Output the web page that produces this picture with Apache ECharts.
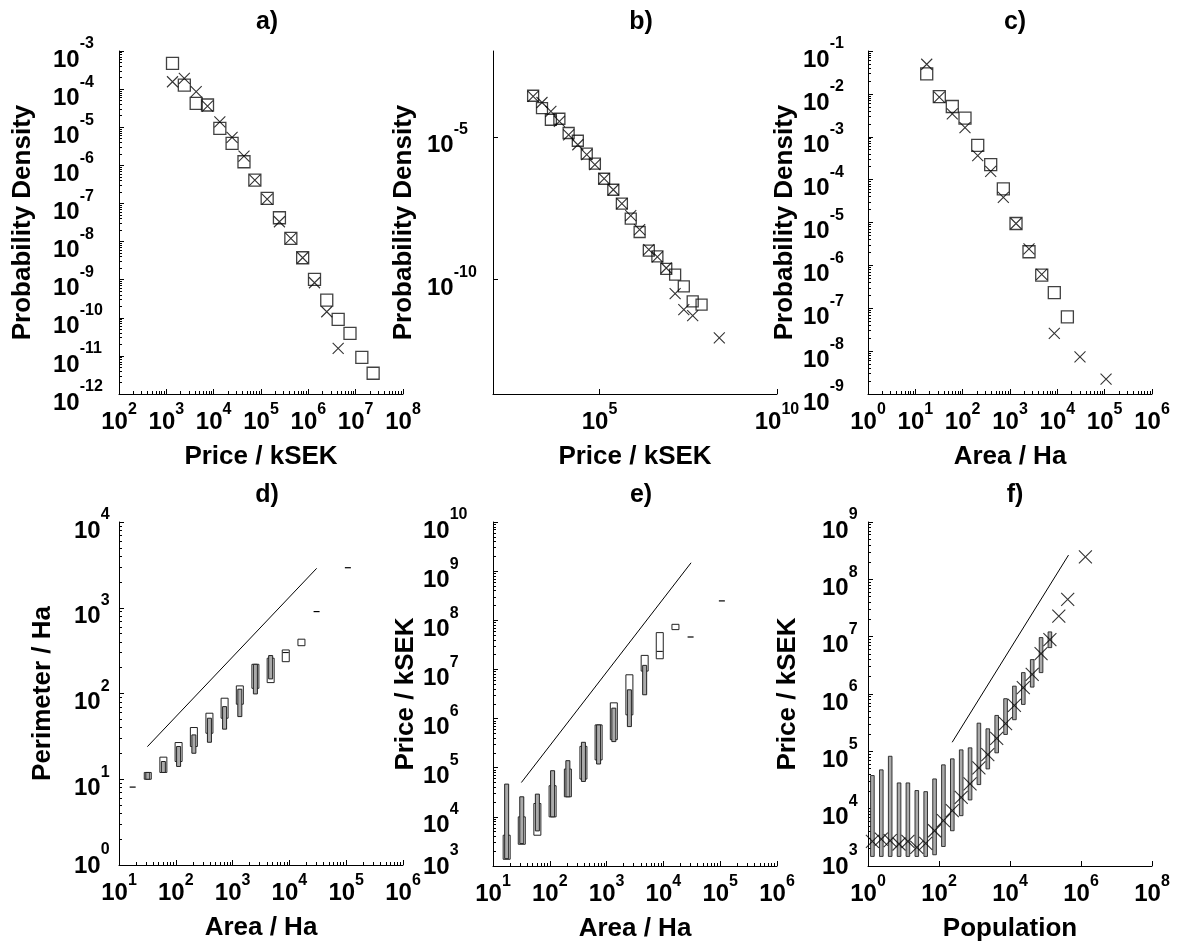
<!DOCTYPE html>
<html><head><meta charset="utf-8">
<script src="https://cdn.jsdelivr.net/npm/echarts@6/dist/echarts.min.js"></script>
<style>html,body{margin:0;padding:0;background:#fff}#c{width:1182px;height:947px}</style>
</head><body><div id="c"></div>
<script>
// ---------------- DATA ----------------
// a) price probability density (squares / crosses)
const aSqPrice = [1350, 2400, 4270, 7410, 13500, 24500, 43700, 74100, 135000, 245000, 427000, 759000, 1350000, 2450000, 4270000, 7590000, 13500000, 23400000];
const aSqDens  = [4.75e-4, 1.28e-4, 4.24e-5, 3.83e-5, 9.35e-6, 3.78e-6, 1.24e-6, 4.11e-7, 1.36e-7, 4.21e-8, 1.21e-8, 3.76e-9, 1.02e-9, 2.92e-10, 9.1e-11, 3.9e-11, 9.1e-12, 3.5e-12];
const aXPrice  = [1350, 2400, 4270, 7410, 13500, 24500, 43700, 74100, 135000, 245000, 427000, 759000, 1350000, 2450000, 4270000];
const aXDens   = [1.56e-4, 1.92e-4, 8.55e-5, 3.6e-5, 1.39e-5, 5.43e-6, 1.75e-6, 4.11e-7, 1.30e-7, 3.31e-8, 1.21e-8, 3.76e-9, 8.3e-10, 1.44e-10, 1.57e-11];
// b) price probability density, second binning
const bSqPrice = [1350, 2400, 4270, 7410, 13500, 24500, 43700, 74100, 135000, 245000, 427000, 759000, 1350000, 2450000, 4270000, 7590000, 13500000, 23700000, 42200000, 75000000];
const bSqDens  = [2.72e-4, 1.01e-4, 3.93e-5, 4.26e-5, 1.35e-5, 7.25e-6, 2.55e-6, 1.14e-6, 3.40e-7, 1.40e-7, 4.54e-8, 1.36e-8, 4.66e-9, 1.03e-9, 6.53e-10, 2.37e-10, 1.50e-10, 5.83e-11, 1.74e-11, 1.34e-11];
const bXPrice  = [1350, 2400, 4270, 7410, 13500, 24500, 43700, 74100, 135000, 245000, 427000, 759000, 1350000, 2450000, 4270000, 7590000, 13500000, 23700000, 42200000, 237000000];
const bXDens   = [2.57e-4, 1.58e-4, 7.67e-5, 3.43e-5, 1.17e-5, 5.25e-6, 2.35e-6, 1.05e-6, 3.40e-7, 1.40e-7, 4.54e-8, 1.73e-8, 5.60e-9, 1.12e-9, 6.22e-10, 2.56e-10, 3.24e-11, 8.93e-12, 5.51e-12, 9.16e-13];
// c) area probability density
const cSqArea = [17.4, 32.1, 60.4, 112, 208, 391, 723, 1340, 2520, 4680, 8630, 16300];
const cSqDens = [2.92e-2, 8.65e-3, 5.07e-3, 2.72e-3, 6.28e-4, 2.23e-4, 6.08e-5, 9.48e-6, 2.08e-6, 5.95e-7, 2.32e-7, 6.28e-8];
const cXArea  = [17.4, 32.1, 60.4, 112, 208, 391, 723, 1340, 2520, 4680, 8630, 30100, 107000];
const cXDens  = [4.91e-2, 8.37e-3, 3.43e-3, 1.64e-3, 3.61e-4, 1.56e-4, 3.87e-5, 9.48e-6, 2.44e-6, 6.18e-7, 2.58e-8, 7.36e-9, 2.23e-9];
// d) perimeter vs area (wide box / narrow box ranges)
const dArea       = [17.4, 32.1, 60.4, 112, 208, 391, 723, 1340, 2520, 4680, 8630, 16300, 30100, 107000];
const dWideLow    = [8.1, 10.0, 12.0, 16.1, 24.1, 34.4, 51.5, 75.0, 115, 134, 235, 361, 902, 2930];
const dWideHigh   = [8.1, 12.0, 18.1, 26.8, 40.1, 58.9, 88.1, 122.7, 219, 258, 322, 430, 902, 2930];
const dNarrowLow  = [null, 10.0, 12.0, 14.1, 20.1, 27.0, 38.4, 53.8, 98.9, 148, 300, null, null, null];
const dNarrowHigh = [null, 12.0, 16.1, 24.1, 32.9, 51.5, 70.3, 112.2, 219, 277, 300, null, null, null];
const dLineX = [31.6, 30200];
const dLineY = [24.0, 2880];
// e) price vs area
const eArea       = [17.4, 32.1, 60.4, 112, 208, 391, 723, 1340, 2520, 4680, 8630, 16300, 30100, 107000];
const eWideLow    = [1370, 2770, 4230, 10000, 25600, 58800, 144000, 372000, 1190000, 9250000, 16500000, 64600000, 45700000, 248000000];
const eWideHigh   = [4230, 10000, 18700, 43000, 94000, 272000, 743000, 2090000, 7780000, 19300000, 56100000, 82800000, 45700000, 248000000];
const eNarrowLow  = [1410, 2860, 5180, 10000, 25600, 52600, 119000, 340000, 687000, 3050000, 23300000, null, null, null];
const eNarrowHigh = [46400, 25600, 29000, 86900, 139000, 329000, 743000, 1630000, 3850000, 12100000, 23300000, null, null, null];
const eLineX = [31.6, 30700];
const eLineY = [50000, 1.48e9];
// f) price vs population
const fPop    = [1.33, 2.37, 4.22, 7.5, 13.3, 23.7, 42.2, 75, 133, 237, 422, 750, 1330, 2370, 4220, 7500, 13300, 23700, 42200, 75000, 133000, 237000, 422000, 1330000];
const fPrice  = [2680, 2950, 2760, 2420, 2680, 2110, 2480, 4120, 6170, 9220, 15800, 27000, 51400, 87900, 169000, 303000, 632000, 1290000, 2200000, 5070000, 8890000, 22800000, 44600000, 247000000];
const fBarPop  = [1.33, 2.37, 4.22, 7.5, 13.3, 23.7, 42.2, 75, 133, 237, 422, 750, 1330, 2370, 4220, 7500, 13300, 23700, 42200, 75000, 133000];
const fBarLow  = [1470, 1470, 1470, 1470, 1470, 1470, 1470, 1570, 2190, 4120, 7550, 14200, 26300, 49400, 94200, 197000, 356000, 658000, 1320000, 2360000, 6440000];
const fBarHigh = [37800, 47500, 82000, 28100, 28100, 20700, 19800, 33000, 58100, 73900, 106000, 115000, 310000, 247000, 423000, 828000, 1370000, 2360000, 3980000, 9640000, 12100000];
const fLineX = [235, 445000];
const fLineY = [144000, 2.65e8];

// tick values
const aXTicks = [1e2, 1e3, 1e4, 1e5, 1e6, 1e7, 1e8];
const aYTicks = [1e-12, 1e-11, 1e-10, 1e-9, 1e-8, 1e-7, 1e-6, 1e-5, 1e-4, 1e-3];
const bXTicks = [1e5, 1e10];
const bYTicks = [1e-10, 1e-5];
const cXTicks = [1, 10, 1e2, 1e3, 1e4, 1e5, 1e6];
const cYTicks = [1e-9, 1e-8, 1e-7, 1e-6, 1e-5, 1e-4, 1e-3, 1e-2, 1e-1];
const dXTicks = [10, 1e2, 1e3, 1e4, 1e5, 1e6];
const dYTicks = [1, 10, 1e2, 1e3, 1e4];
const eXTicks = [10, 1e2, 1e3, 1e4, 1e5, 1e6];
const eYTicks = [1e3, 1e4, 1e5, 1e6, 1e7, 1e8, 1e9, 1e10];
const fXTicks = [1, 1e2, 1e4, 1e6, 1e8];
const fYTicks = [1e3, 1e4, 1e5, 1e6, 1e7, 1e8, 1e9];

const panelTitles = ['a)', 'b)', 'c)', 'd)', 'e)', 'f)'];
const xNames = ['Price / kSEK', 'Price / kSEK', 'Area / Ha', 'Area / Ha', 'Area / Ha', 'Population'];
const yNames = ['Probability Density', 'Probability Density', 'Probability Density', 'Perimeter / Ha', 'Price / kSEK', 'Price / kSEK'];

// ---------------- LAYOUT / STYLE ----------------
const F = "'Liberation Sans', Arial, Helvetica, sans-serif";
const grids = [
  {left:119, top:51, width:284, height:343},
  {left:493, top:51, width:284, height:343},
  {left:868, top:51, width:284, height:343},
  {left:119, top:522, width:284, height:343},
  {left:493, top:522, width:284, height:344},
  {left:868, top:522, width:284, height:344}
];
function richFor(lh){
  return {
    b:{fontSize:24, fontWeight:'bold', fontFamily:F, color:'#000', lineHeight:lh, verticalAlign:'bottom'},
    s:{fontSize:16, fontWeight:'bold', fontFamily:F, color:'#000', lineHeight:lh, verticalAlign:'top'},
    g:{fontSize:4, lineHeight:16, color:'rgba(0,0,0,0)'}
  };
}
const RICH_X = richFor(32);
const RICH_Y = richFor(36);
function sup(v){ const e = Math.round(Math.log10(v)); return '{b|10}{s|' + e + '}'; }
// bottom-row panels: lowest y label sits a little higher (clear of the x labels)
function supLift(minV){
  return function(v){ const t = sup(v); return Math.abs(Math.log10(v) - Math.log10(minV)) < 1e-6 ? t + '\n{g| }' : t; };
}
function minorVals(min, max){
  const out = [];
  for (let e = Math.floor(Math.log10(min)); e < Math.ceil(Math.log10(max)); e++){
    for (let k = 2; k <= 9; k++){ const v = k * Math.pow(10, e); if (v > min && v < max) out.push(v); }
  }
  return out;
}
const nameStyle = {fontSize:26, fontWeight:'bold', fontFamily:F, color:'#000'};
function axes(dim, gi, min, max, ticks, labels, minorOn, name, nameGap, margin, lift){
  const pos = dim === 'x' ? 'bottom' : 'left';
  const main = {
    type:'log', logBase:10, gridIndex:gi, min:min, max:max, position:pos,
    axisLine:{show:true, onZero:false, lineStyle:{color:'#000', width:1}},
    axisTick:{show:true, inside:true, length:5, customValues:ticks, lineStyle:{color:'#000', width:1}},
    minorTick:{show:false}, splitLine:{show:false},
    axisLabel: dim === 'y'
      ? {show:true, customValues:labels, formatter: lift ? supLift(min) : sup, rich:RICH_Y, margin:margin, align:'left', padding:[6,0,0,0]}
      : {show:true, customValues:labels, formatter:sup, rich:RICH_X, margin:margin, align:'center'},
    name:name, nameLocation:'middle', nameGap:nameGap, nameTextStyle:nameStyle
  };
  const minor = {
    type:'log', logBase:10, gridIndex:gi, min:min, max:max, position:pos,
    axisLine:{show:false},
    axisTick:{show:minorOn, inside:true, length:3, customValues:minorOn ? minorVals(min, max) : [1e300], lineStyle:{color:'#000', width:1}},
    minorTick:{show:false}, splitLine:{show:false}, axisLabel:{show:false}
  };
  return [main, minor];
}
const xAxis = [].concat(
  axes('x', 0, 1e2, 1e8, aXTicks, aXTicks, true, xNames[0], 50, 8),
  axes('x', 1, 1e2, 1e10, bXTicks, bXTicks, false, xNames[1], 50, 8),
  axes('x', 2, 1, 1e6, cXTicks, cXTicks, true, xNames[2], 50, 8),
  axes('x', 3, 10, 1e6, dXTicks, dXTicks, true, xNames[3], 50, 8),
  axes('x', 4, 10, 1e6, eXTicks, eXTicks, true, xNames[4], 50, 8),
  axes('x', 5, 1, 1e8, fXTicks, fXTicks, false, xNames[5], 50, 8)
);
const yAxis = [].concat(
  axes('y', 0, 1e-12, 1e-3, aYTicks, aYTicks, true, yNames[0], 83, 66, false),
  axes('y', 1, 1e-14, 1e-2, bYTicks, bYTicks, false, yNames[1], 76, 66, false),
  axes('y', 2, 1e-9, 1e-1, cYTicks, cYTicks, true, yNames[2], 70, 65, false),
  axes('y', 3, 1, 1e4, dYTicks, dYTicks, true, yNames[3], 63, 45, true),
  axes('y', 4, 1e3, 1e10, eYTicks, eYTicks, true, yNames[4], 66, 70, true),
  axes('y', 5, 1e3, 1e9, fYTicks, fYTicks, true, yNames[5], 67, 46, true)
);

const zip = (xs, ys) => xs.map((x, i) => [x, ys[i]]);
const CROSS = 'path://M0,0L10,10M10,0L0,10';
function sq(p, xs, ys, size){
  return {type:'scatter', xAxisIndex:2*p, yAxisIndex:2*p, data:zip(xs, ys), symbol:'rect', symbolSize:size,
    itemStyle:{color:'rgba(0,0,0,0)', borderColor:'#111', borderWidth:1.3}, silent:true};
}
function cr(p, xs, ys, size){
  return {type:'scatter', xAxisIndex:2*p, yAxisIndex:2*p, data:zip(xs, ys), symbol:CROSS, symbolSize:size,
    itemStyle:{color:'rgba(0,0,0,0)', borderColor:'#000', borderWidth:1.1}, silent:true};
}
function line(p, xs, ys){
  return {type:'line', xAxisIndex:2*p, yAxisIndex:2*p, data:zip(xs, ys), showSymbol:false, symbol:'none',
    lineStyle:{color:'#000', width:1}, silent:true};
}
function boxes(p, xs, wl, wh, nl, nh){
  return {type:'custom', xAxisIndex:2*p, yAxisIndex:2*p, silent:true,
    data: xs.map((x, i) => [x, wl[i], wh[i], nl[i] == null ? 0 : nl[i], nh[i] == null ? 0 : nh[i]]),
    encode:{x:0, y:1},
    renderItem: function(params, api){
      const x = api.value(0), a = api.value(1), b = api.value(2), c = api.value(3), d = api.value(4);
      const ch = [];
      const p1 = api.coord([x, a]), p2 = api.coord([x, b]);
      if (a === b) {
        ch.push({type:'line', shape:{x1:p1[0]-3, y1:p1[1], x2:p1[0]+3, y2:p1[1]}, style:{stroke:'#000', lineWidth:1.2}});
      } else {
        ch.push({type:'rect', shape:{x:p1[0]-3.5, y:p2[1], width:7, height:p1[1]-p2[1]}, style:{fill:'none', stroke:'#222', lineWidth:1}});
      }
      if (c > 0 && d > 0) {
        const q1 = api.coord([x, c]), q2 = api.coord([x, d]);
        if (c === d) {
          ch.push({type:'line', shape:{x1:q1[0]-3, y1:q1[1], x2:q1[0]+3, y2:q1[1]}, style:{stroke:'#000', lineWidth:1}});
        } else {
          ch.push({type:'rect', shape:{x:q1[0]-2, y:q2[1], width:4, height:q1[1]-q2[1]}, style:{fill:'#aaa', stroke:'#222', lineWidth:1}});
        }
      }
      return {type:'group', children:ch};
    }
  };
}
function bars(p, xs, lo, hi){
  return {type:'custom', xAxisIndex:2*p, yAxisIndex:2*p, silent:true,
    data: xs.map((x, i) => [x, lo[i], hi[i]]), encode:{x:0, y:1},
    renderItem: function(params, api){
      const x = api.value(0);
      const p1 = api.coord([x, api.value(1)]), p2 = api.coord([x, api.value(2)]);
      return {type:'rect', shape:{x:p1[0]-1.8, y:p2[1], width:3.6, height:p1[1]-p2[1]}, style:{fill:'#aaa', stroke:'#222', lineWidth:0.9}};
    }
  };
}

const titleX = [262, 636, 1010, 262, 636, 1010];
const titleY = [5, 5, 5, 478, 478, 478];
const option = {
  animation:false,
  backgroundColor:'#fff',
  title: panelTitles.map((t, i) => ({text:t, left:titleX[i], top:titleY[i], textAlign:'center',
    textStyle:{fontSize:25, fontWeight:'bold', fontFamily:F, color:'#000'}})),
  grid: grids.map(g => Object.assign({containLabel:false}, g)),
  xAxis: xAxis,
  yAxis: yAxis,
  series: [
    sq(0, aSqPrice, aSqDens, 12), cr(0, aXPrice, aXDens, 11),
    sq(1, bSqPrice, bSqDens, 11), cr(1, bXPrice, bXDens, 11),
    sq(2, cSqArea, cSqDens, 12), cr(2, cXArea, cXDens, 11),
    line(3, dLineX, dLineY), boxes(3, dArea, dWideLow, dWideHigh, dNarrowLow, dNarrowHigh),
    line(4, eLineX, eLineY), boxes(4, eArea, eWideLow, eWideHigh, eNarrowLow, eNarrowHigh),
    line(5, fLineX, fLineY), bars(5, fBarPop, fBarLow, fBarHigh), cr(5, fPop, fPrice, 13)
  ]
};
const chart = echarts.init(document.getElementById('c'), null, {renderer:'canvas'});
chart.setOption(option);
</script>
</body></html>
